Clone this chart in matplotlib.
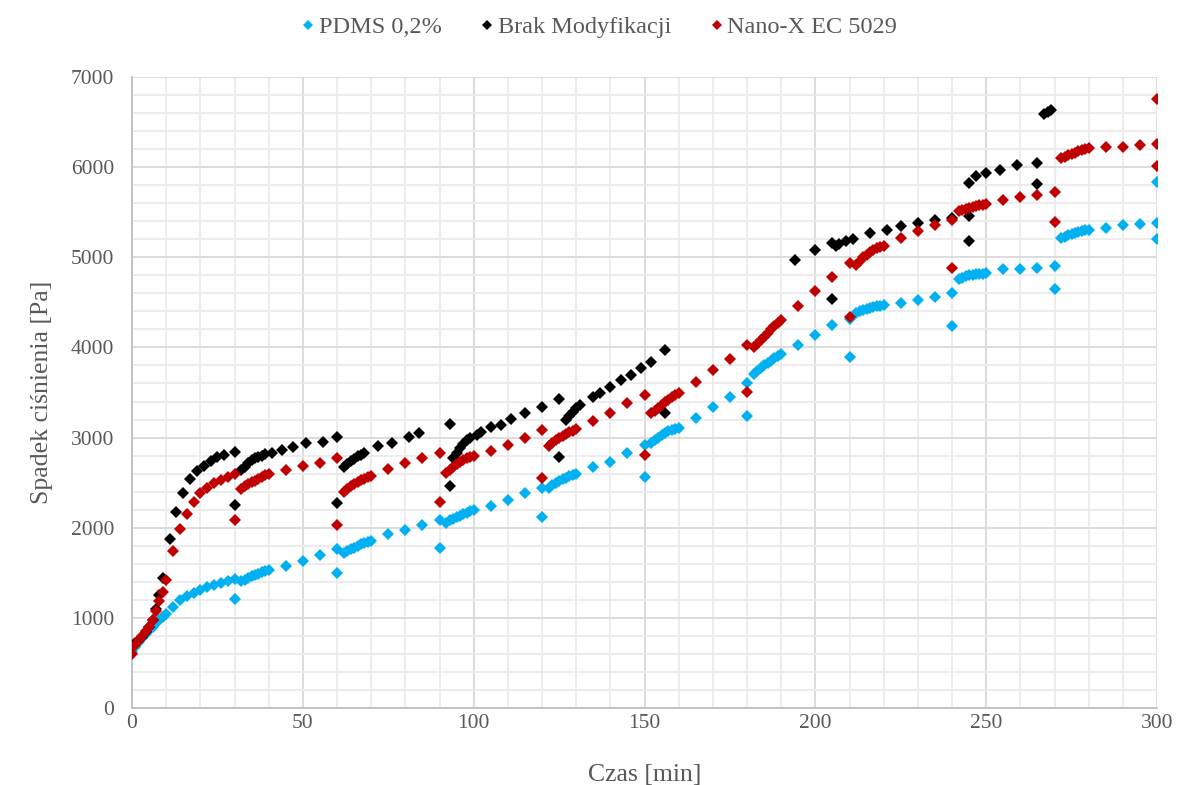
import matplotlib
matplotlib.use("Agg")
import matplotlib.pyplot as plt
from matplotlib.ticker import MultipleLocator

# ---------------- data ----------------
pdms_t = [0, 1, 2, 3, 4, 5, 6, 7, 8, 9, 10, 12, 14, 16, 18, 20, 22, 24, 26, 28, 30, 30,
          32, 33, 34, 35, 36, 37, 38, 39, 40, 45, 50, 55, 60, 60,
          62, 63, 64, 65, 66, 67, 68, 69, 70, 75, 80, 85, 90, 90,
          92, 93, 94, 95, 96, 97, 98, 99, 100, 105, 110, 115, 120, 120,
          122, 123, 124, 125, 126, 127, 128, 129, 130, 135, 140, 145, 150, 150,
          152, 153, 154, 155, 156, 157, 158, 159, 160, 165, 170, 175, 180, 180,
          182, 183, 184, 185, 186, 187, 188, 189, 190, 195, 200, 205, 210, 210,
          212, 213, 214, 215, 216, 217, 218, 219, 220, 225, 230, 235, 240, 240,
          242, 243, 244, 245, 246, 247, 248, 249, 250, 255, 260, 265, 270, 270,
          272, 273, 274, 275, 276, 277, 278, 279, 280, 285, 290, 295, 300, 300, 300]
pdms_p = [625, 680, 730, 780, 820, 860, 900, 940, 975, 1010, 1043, 1125, 1198, 1243, 1280, 1310, 1339, 1365, 1391, 1410, 1432, 1210,
          1405, 1420, 1440, 1460, 1475, 1490, 1505, 1520, 1535, 1575, 1635, 1698, 1761, 1495,
          1717, 1740, 1760, 1780, 1800, 1815, 1830, 1845, 1857, 1931, 1976, 2031, 2087, 1770,
          2057, 2080, 2100, 2120, 2135, 2150, 2165, 2180, 2195, 2238, 2308, 2383, 2438, 2114,
          2438, 2470, 2500, 2520, 2540, 2555, 2570, 2585, 2597, 2671, 2734, 2834, 2919, 2560,
          2940, 2970, 3000, 3030, 3050, 3070, 3085, 3100, 3111, 3215, 3344, 3455, 3604, 3244,
          3707, 3740, 3770, 3800, 3830, 3855, 3880, 3905, 3929, 4029, 4140, 4251, 4314, 3892,
          4380, 4400, 4415, 4430, 4440, 4450, 4458, 4465, 4473, 4491, 4528, 4554, 4602, 4243,
          4761, 4775, 4790, 4800, 4808, 4812, 4816, 4820, 4824, 4870, 4870, 4880, 4906, 4650,
          5213, 5230, 5245, 5260, 5270, 5280, 5290, 5298, 5305, 5324, 5353, 5368, 5380, 5205, 5830]

brak_t = [0, 1, 2, 3, 4, 5, 6, 7, 8, 9, 11, 13, 15, 17, 19, 21, 23, 25, 27, 30, 30,
          32, 33, 34, 35, 36, 37, 38, 39, 41, 44, 47, 51, 56, 60, 60,
          62, 63, 64, 65, 66, 67, 68, 72, 76, 81, 84,
          93, 93, 94, 95, 96, 97, 98, 99, 101, 102, 105, 108, 111, 115, 120, 125, 125,
          127, 128, 129, 130, 131, 135, 137, 140, 143, 146, 149, 152, 156, 156,
          194, 200, 205, 205, 206, 207, 209, 211, 216, 221, 225, 230, 235, 240,
          245, 245, 245, 247, 250, 254, 259, 265, 265, 267, 268, 269]
brak_p = [680, 720, 750, 790, 840, 900, 980, 1095, 1250, 1439, 1876, 2179, 2390, 2542, 2630, 2686, 2735, 2782, 2808, 2845, 2250,
          2640, 2678, 2720, 2753, 2775, 2789, 2800, 2815, 2826, 2863, 2893, 2938, 2956, 3004, 2270,
          2678, 2710, 2740, 2765, 2790, 2810, 2826, 2910, 2945, 3011, 3049,
          3152, 2464, 2771, 2830, 2882, 2930, 2970, 2993, 3030, 3060, 3115, 3141, 3204, 3271, 3337, 3426, 2785,
          3196, 3240, 3289, 3330, 3363, 3450, 3500, 3560, 3640, 3696, 3770, 3837, 3966, 3270,
          4972, 5076, 4539, 5160, 5128, 5150, 5176, 5201, 5268, 5305, 5342, 5379, 5416, 5435,
          5186, 5453, 5823, 5897, 5934, 5964, 6020, 6045, 5816, 6589, 6610, 6637]

nano_t = [0, 1, 2, 3, 4, 5, 6, 7, 8, 9, 10, 12, 14, 16, 18, 20, 22, 24, 26, 28, 30, 30,
          32, 33, 34, 35, 36, 37, 38, 39, 40, 45, 50, 55, 60, 60,
          62, 63, 64, 65, 66, 67, 68, 69, 70, 75, 80, 85, 90, 90,
          92, 93, 94, 95, 96, 97, 98, 99, 100, 105, 110, 115, 120, 120,
          122, 123, 124, 125, 126, 127, 128, 129, 130, 135, 140, 145, 150, 150,
          152, 153, 154, 155, 156, 157, 158, 159, 160, 165, 170, 175, 180, 180,
          182, 183, 184, 185, 186, 187, 188, 189, 190, 195, 200, 205, 210, 210,
          212, 213, 214, 215, 216, 217, 218, 219, 220, 225, 230, 235, 240, 240,
          242, 243, 244, 245, 246, 247, 248, 249, 250, 255, 260, 265, 270, 270,
          272, 273, 274, 275, 276, 277, 278, 279, 280, 285, 290, 295, 300, 300, 300]
nano_p = [600, 700, 750, 800, 850, 900, 980, 1080, 1190, 1290, 1420, 1746, 1987, 2153, 2283, 2383, 2445, 2501, 2530, 2567, 2593, 2086,
          2431, 2460, 2486, 2505, 2523, 2540, 2560, 2580, 2597, 2641, 2686, 2723, 2775, 2035,
          2401, 2430, 2460, 2485, 2505, 2525, 2545, 2562, 2578, 2649, 2716, 2778, 2834, 2280,
          2605, 2640, 2678, 2705, 2734, 2750, 2771, 2780, 2790, 2856, 2919, 2993, 3085, 2549,
          2908, 2940, 2970, 3000, 3020, 3040, 3060, 3078, 3093, 3189, 3277, 3389, 3474, 2812,
          3270, 3300, 3330, 3360, 3390, 3420, 3450, 3475, 3500, 3622, 3751, 3873, 4029, 3504,
          4000, 4040, 4080, 4120, 4160, 4200, 4235, 4270, 4306, 4462, 4621, 4776, 4935, 4343,
          4917, 4960, 5000, 5030, 5060, 5080, 5100, 5115, 5120, 5213, 5287, 5353, 5416, 4880,
          5509, 5520, 5535, 5545, 5555, 5565, 5575, 5585, 5594, 5631, 5668, 5686, 5720, 5386,
          6101, 6115, 6130, 6145, 6160, 6175, 6190, 6200, 6212, 6223, 6223, 6241, 6260, 6015, 6755]

series_names = ["PDMS 0,2%", "Brak Modyfikacji", "Nano-X EC 5029"]
series_colors = ["#00B0F0", "#000000", "#C00000"]

x_label = "Czas [min]"
y_label = "Spadek ciśnienia [Pa]"

# ---------------- plot ----------------
plt.rcParams['font.family'] = ['Liberation Serif', 'DejaVu Serif']

fig = plt.figure(figsize=(11.95, 7.85), dpi=100)
ax = fig.add_axes([0.1105, 0.0981, 0.8577, 0.8038])

for t, p, name, c in zip([pdms_t, brak_t, nano_t], [pdms_p, brak_p, nano_p],
                         series_names, series_colors):
    ax.plot(t, p, linestyle="none", marker="D", markersize=6.0, color=c,
            markeredgewidth=0, label=name, zorder=3)

ax.set_xlim(0, 300)
ax.set_ylim(0, 7000)
ax.xaxis.set_major_locator(MultipleLocator(50))
ax.xaxis.set_minor_locator(MultipleLocator(10))
ax.yaxis.set_major_locator(MultipleLocator(1000))
ax.yaxis.set_minor_locator(MultipleLocator(200))

ax.grid(which="minor", color="#EBEBEB", linewidth=1.3, zorder=0)
ax.grid(which="major", color="#D9D9D9", linewidth=1.3, zorder=1)
ax.set_axisbelow(True)

for s in ["top", "right"]:
    ax.spines[s].set_visible(False)
ax.spines["left"].set_color("#BFBFBF")
ax.spines["bottom"].set_color("#BFBFBF")
ax.spines["left"].set_linewidth(1.3)
ax.spines["bottom"].set_linewidth(1.3)

ax.tick_params(which="both", length=0, labelsize=15.5, labelcolor="#595959")
ax.tick_params(axis="x", pad=4)
ax.tick_params(axis="y", pad=13)

ax.set_xlabel(x_label, fontsize=18.5, color="#595959", labelpad=23)
ax.set_ylabel(y_label, fontsize=18.5, color="#595959", labelpad=13)

leg = fig.legend(loc="center", bbox_to_anchor=(0.502, 0.965), ncol=3, frameon=False,
                 fontsize=17.5, handlelength=0.5, handletextpad=0.2, columnspacing=1.6,
                 markerscale=0.8, labelcolor="#595959")

fig.savefig("out.png", dpi=100)
